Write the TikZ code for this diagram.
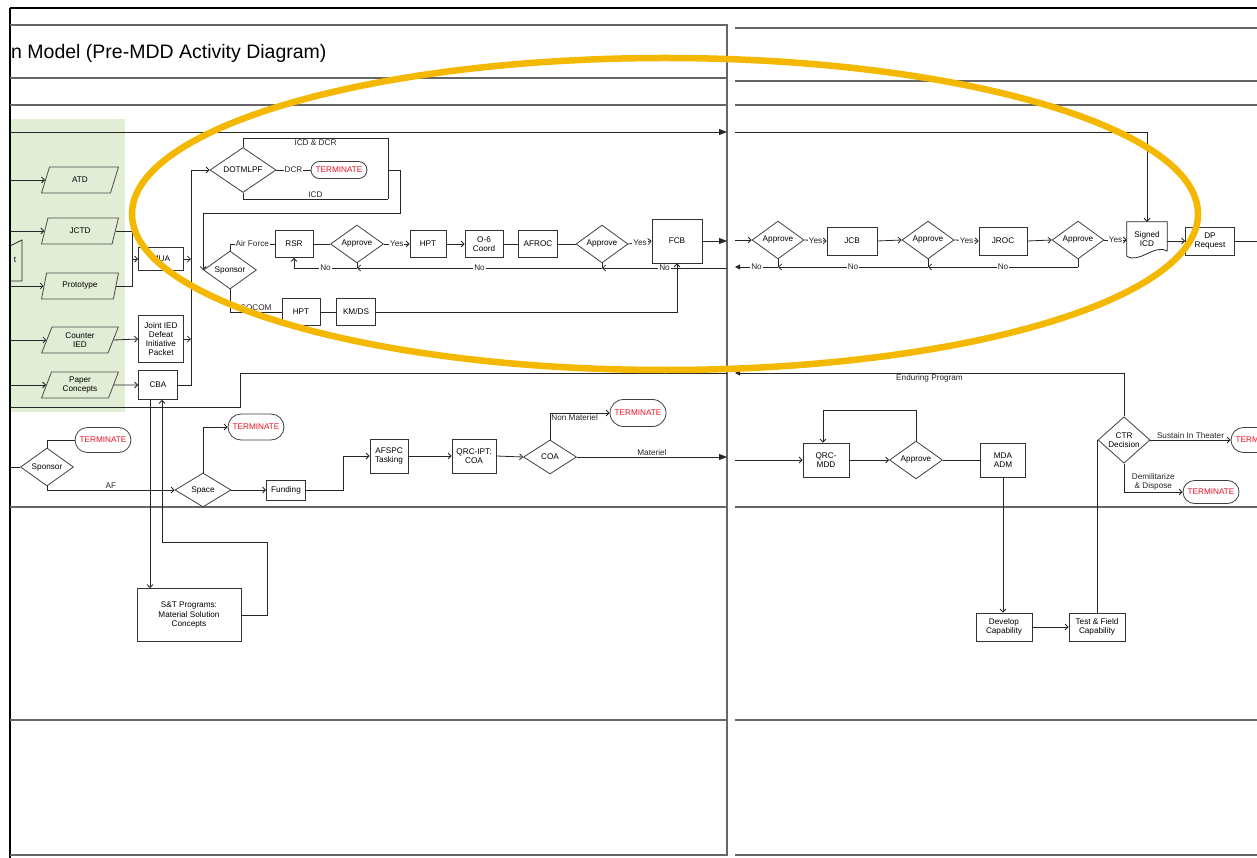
\documentclass[tikz,border=0pt]{standalone}
\usepackage{fontspec}
\setmainfont{Liberation Sans}
\usetikzlibrary{positioning,shapes.geometric,shapes.misc,arrows.meta}
\definecolor{lanegreen}{RGB}{226,237,214}
\definecolor{ringgold}{RGB}{244,184,0}
\definecolor{termred}{RGB}{230,20,40}
\newcommand{\lblfont}{\fontsize{8.2}{9.2}\selectfont}
\tikzset{
  % --- activities --------------------------------------------------------------
  act/.style={rectangle,draw=black!80,line width=0.8pt,fill=white,inner sep=1pt,
              minimum width=38pt,minimum height=27pt,align=center,font=\lblfont},
  dec/.style={diamond,draw=black!75,line width=0.8pt,fill=white,inner sep=0pt,
              minimum width=53pt,minimum height=34pt,align=center,font=\lblfont},
  term/.style={rounded rectangle,draw=black!75,line width=0.8pt,fill=white,
               text=termred,minimum width=58pt,minimum height=25pt,inner sep=1pt,
               font=\lblfont},
  inp/.style={trapezium,trapezium left angle=70,trapezium right angle=110,
              trapezium stretches=true,draw=black!70,line width=0.8pt,
              fill=lanegreen,minimum width=77pt,minimum height=26pt,inner sep=0pt,
              align=center,font=\lblfont},
  % --- connectors --------------------------------------------------------------
  link/.style={black!85,line width=0.8pt},
  flow/.style={link,-{Straight Barb[length=3pt,width=6pt]}},
  jump/.style={link,-{Triangle[length=8pt,width=6pt]}},
  jumps/.style={link,-{Triangle[length=5pt,width=5pt]}},
  lab/.style={font=\lblfont,inner sep=1pt},
  onl/.style={lab,fill=white},
  % --- swim lanes --------------------------------------------------------------
  lane/.style={black!60,line width=1.1pt},
}

\begin{document}
\begin{tikzpicture}[x=1pt, y=-1pt]
  \useasboundingbox (0,0) rectangle (1257,858);
  \fill[white] (0,0) rectangle (1257,858);
  \clip (0,0) rectangle (1257,858);
  \fill[lanegreen] (10,119) rectangle (125,412);

  % --- sheet frames and lane lines ----------------------------------------
  \draw[black,line width=2pt] (10,8) -- (1257,8) (10,8) -- (10,858);
  \draw[lane] (10,25) -- (727,25) -- (727,855) -- (10,855);
  \foreach \y in {78,105,507,720} \draw[lane] (10,\y) -- (727,\y);
  \foreach \y in {28,81,105,507,720,855} \draw[lane] (735,\y) -- (1257,\y);
  \node[anchor=west,inner sep=0pt,font=\fontsize{19.5}{22}\selectfont] (ttl) at (11,53)
    {n Model (Pre-MDD Activity Diagram)};

  \coordinate (edge) at (10,0);    % left sheet, left edge
  \coordinate (cutL) at (727,0);   % left sheet, right edge
  \coordinate (cutR) at (735,0);   % right sheet, left edge
  \coordinate (far)  at (1257,0);

  % --- lane 1: the candidate sources ----------------------------------------
  \node[inp] (atd)   at (80,180) {ATD};
  \node[inp] (jctd)  at (80,231) {JCTD};
  \node[inp] (proto) at (80,286) {Prototype};
  \node[inp] (cied)  at (80,340) {Counter\\IED};
  \node[inp] (paper) at (80,385) {Paper\\Concepts};
  \node[lab] (tin) at (15,260) {t};
  \draw[link] (10,246) -- (22,240) -- (22,281) -- (10,281);

  \node[act,minimum width=45pt,minimum height=23pt] (mua)  at (161,259) {MUA};
  \node[act,minimum width=45pt,minimum height=47pt] (jied) at (161,339)
    {Joint IED\\Defeat\\Initiative\\Packet};
  \node[act,minimum width=39pt,minimum height=29pt] (cba)  at (158,385) {CBA};

  \node[dec,minimum width=66pt,minimum height=35pt] (dotm) at (243,170) {DOTMLPF};
  \node[term,minimum height=17pt] (trm1) at (339,170) {TERMINATE};
  \node[dec] (spon)  at (230,270) {Sponsor};
  \node[act] (rsr)   at (294,244) {RSR};
  \node[dec] (ap1)   at (357,244) {Approve};
  \node[act,minimum width=36pt] (hpt1) at (428,244) {HPT};
  \node[act] (o6)    at (484,244) {O-6\\Coord};
  \node[act,minimum width=39pt] (afroc) at (538,244) {AFROC};
  \node[dec,minimum width=52pt,minimum height=35pt] (ap2) at (602,244) {Approve};
  \node[act,minimum width=50pt,minimum height=44pt] (fcb) at (677,241) {FCB};
  \node[act] (hpt2)  at (301,312) {HPT};
  \node[act,minimum width=39pt] (kmds) at (356,312) {KM/DS};

  \foreach \n in {atd,jctd,proto,cied,paper} \draw[flow] (edge |- \n.west) -- (\n.west);
  \coordinate (mj) at (132,259);
  \draw[link] (jctd.east) -| (mj);
  \draw[link] (proto.east) -| (mj);
  \draw[flow] (mj) -- (mua.west);
  \draw[flow] (cied.east) -- (jied.west);
  \draw[flow] (paper.east) -- (cba.west);
  \draw[flow] (mua.east) -- ++(7,0);
  \draw[flow] (jied.east) -- ++(7,0);
  \draw[flow] (cba.east) -- ++(13,0) |- (dotm.west);

  % the DOTMLPF outcomes
  \coordinate (dne) at (388,138);
  \coordinate (dse) at (388,199);
  \draw[link] (dotm.north) |- (dne) node[lab,below,pos=0.75]{ICD \& DCR} -- (dse);
  \draw[link] (dotm.south) |- (dse) node[lab,above,pos=0.75]{ICD};
  \draw[link] (dotm.east) -- (trm1.west) node[onl,midway]{DCR};
  \draw[flow] (dse |- dotm.east) -- ++(12,0) -- ++(0,43) -| (spon.west);

  \draw[link] (spon.north) |- (rsr.west) node[onl,pos=0.75]{Air Force};
  \draw[link] (rsr.east) -- (ap1.west);
  \draw[flow] (ap1.east) -- (hpt1.west) node[onl,midway]{Yes};
  \draw[flow] (hpt1.east) -- (o6.west);
  \draw[link] (o6.east) -- (afroc.west);
  \draw[link] (afroc.east) -- (ap2.west);
  \draw[flow] (ap2.east) -- (fcb.west) node[onl,midway]{Yes};
  \draw[jump] (fcb.east) -- (fcb.east -| cutL);
  \draw[link] (spon.south) |- (hpt2.west) node[lab,above,pos=0.75]{COCOM};
  \draw[link] (hpt2.east) -- (kmds.west);
  \draw[flow] (kmds.east) -| (fcb.south);

  % the rejections run back to RSR
  \coordinate (noL) at (727,268);
  \draw[link] (ap2.south) -- (ap2.south |- noL);
  \draw[link] (ap1.south) -- (ap1.south |- noL);
  \draw[flow] (noL) -- (ap2.south |- noL) node[onl,midway]{No};
  \draw[flow] (ap2.south |- noL) -- (ap1.south |- noL) node[onl,midway]{No};
  \draw[flow] (ap1.south |- noL) -| (rsr.south) node[onl,pos=0.25]{No};

  \coordinate (topin) at (10,132);
  \draw[jump] (topin) -- (topin -| cutL);

  % --- lane 2: the space path -------------------------------------------------
  \node[dec] (spon2) at (47,467) {Sponsor};
  \node[term] (trm2) at (103,440) {TERMINATE};
  \node[dec,minimum width=56pt] (space) at (203,490) {Space};
  \node[term,minimum height=26pt] (trm3) at (256,427) {TERMINATE};
  \node[act,minimum width=39pt,minimum height=20pt] (fund) at (286,490) {Funding};
  \node[act,minimum height=34pt] (afspc) at (389,456) {AFSPC\\Tasking};
  \node[act,minimum width=44pt,minimum height=34pt] (qrc) at (474,456) {QRC-IPT:\\COA};
  \node[dec] (coa) at (550,457) {COA};
  \node[term,minimum height=27pt] (trm4) at (638,413) {TERMINATE};

  \draw[link] (edge |- spon2.west) -- (spon2.west);
  \draw[link] (spon2.north) |- (trm2.west);
  \draw[flow] (spon2.south) |- (space.west) node[lab,above,pos=0.75]{AF};
  \draw[flow] (space.north) |- (trm3.west);
  \draw[flow] (space.east) -- (fund.west);
  \draw[flow] (fund.east) -- ++(37,0) |- (afspc.west);
  \draw[flow] (afspc.east) -- (qrc.west);
  \draw[flow] (qrc.east) -- (coa.west);
  \draw[flow] (coa.north) |- (trm4.west) node[lab,below right,pos=0.5]{Non Materiel};
  \draw[jump] (coa.east) -- (coa.east -| cutL) node[lab,above,midway]{Materiel};
  \coordinate (endL) at (727,373);
  \coordinate (endOut) at (10,407);
  \draw[link] (endL) -- (240,373) |- (endOut);

  % --- lane 3: S&T ------------------------------------------------------------
  \node[act,minimum width=104pt,minimum height=53pt] (st) at (189,615)
    {S\&T Programs:\\Material Solution\\Concepts};
  \draw[flow] ([xshift=-8pt]cba.south) -- ([xshift=-8pt]cba.south |- st.north);
  \draw[flow] (st.east) -- ++(26,0) -- ++(0,-73) -| ([xshift=4pt]cba.south);

  % --- right sheet: the joint staffing chain ----------------------------------
  \node[dec,minimum width=52pt] (apA) at (778,240) {Approve};
  \node[act,minimum width=50pt,minimum height=28pt] (jcb) at (852,241) {JCB};
  \node[dec,minimum width=52pt] (apB) at (928,240) {Approve};
  \node[act,minimum width=48pt,minimum height=28pt] (jroc) at (1003,241) {JROC};
  \node[dec,minimum width=52pt] (apC) at (1078,240) {Approve};
  \node[minimum width=40pt,minimum height=34pt,inner sep=1pt,align=center,
        font=\lblfont] (sicd) at (1147,239) {Signed\\ICD};
  \draw[link,line width=0.8pt] ([yshift=5pt]sicd.south east) -- (sicd.north east)
    -- (sicd.north west) -- (sicd.south west)
    .. controls +(13pt,-8pt) and +(-13pt,8pt) .. ([yshift=5pt]sicd.south east);
  \node[act,minimum width=49pt,minimum height=28pt] (dpr) at (1210,241) {DP\\Request};

  \draw[flow] (cutR |- apA.west) -- (apA.west);
  \draw[flow] (apA.east) -- (jcb.west) node[onl,midway]{Yes};
  \draw[flow] (jcb.east) -- (apB.west);
  \draw[flow] (apB.east) -- (jroc.west) node[onl,midway]{Yes};
  \draw[flow] (jroc.east) -- (apC.west);
  \draw[flow] (apC.east) -- (sicd.west |- apC.east) node[onl,midway]{Yes};
  \draw[flow] (sicd.east |- dpr.west) -- (dpr.west);
  \draw[link] (dpr.east) -- (dpr.east -| far);
  \draw[flow] (topin -| cutR) -| (sicd.north);

  \coordinate (noR) at (735,267);
  \draw[link] (apC.south) -- (apC.south |- noR);
  \draw[link] (apB.south) -- (apB.south |- noR);
  \draw[link] (apA.south) -- (apA.south |- noR);
  \draw[flow] (apC.south |- noR) -- (apB.south |- noR) node[onl,midway]{No};
  \draw[flow] (apB.south |- noR) -- (apA.south |- noR) node[onl,midway]{No};
  \draw[jumps] (apA.south |- noR) -- (noR) node[onl,midway]{No};

  % --- right sheet: materiel solution -----------------------------------------
  \node[act,minimum width=46pt,minimum height=34pt] (qmdd) at (826,460) {QRC-\\MDD};
  \node[dec] (ap3) at (916,460) {Approve};
  \node[act,minimum width=45pt,minimum height=34pt] (mda) at (1003,460) {MDA\\ADM};
  \node[dec,minimum width=52pt] (ctr) at (1124,440) {CTR\\Decision};
  \node[term] (trm5) at (1259,440) {TERMINATE};
  \node[term,minimum height=23pt] (trm6) at (1211,492) {TERMINATE};
  \node[act,minimum width=56pt,minimum height=28pt] (dev) at (1004,627) {Develop\\Capability};
  \node[act,minimum width=56pt,minimum height=28pt] (tfc) at (1097,627) {Test \& Field\\Capability};

  \draw[flow] (cutR |- qmdd.west) -- (qmdd.west);
  \draw[flow] (qmdd.east) -- (ap3.west);
  \draw[flow] (ap3.north) -- ++(0,-30) -| ([xshift=-3pt]qmdd.north);
  \draw[link] (ap3.east) -- (mda.west);
  \draw[flow] (mda.south) -- (mda.south |- dev.north);
  \draw[flow] (dev.east) -- (tfc.west);
  \draw[link] (tfc.north) -- (tfc.north |- ctr.west);
  \coordinate (endR) at (735,373);
  \draw[jumps] (ctr.north) |- (endR) node[lab,below,pos=0.75]{Enduring Program};
  \draw[flow] (ctr.east) -- (trm5.west) node[lab,above,midway]{Sustain In Theater};
  \draw[flow] (ctr.south) |- (trm6.west)
    node[lab,above,pos=0.75,align=center]{Demilitarize\\\& Dispose};

  % --- the highlight ring -------------------------------------------------------
  \draw[ringgold,line width=6.5pt] (665,214) ellipse [x radius=533pt, y radius=156pt];
\end{tikzpicture}
\end{document}
